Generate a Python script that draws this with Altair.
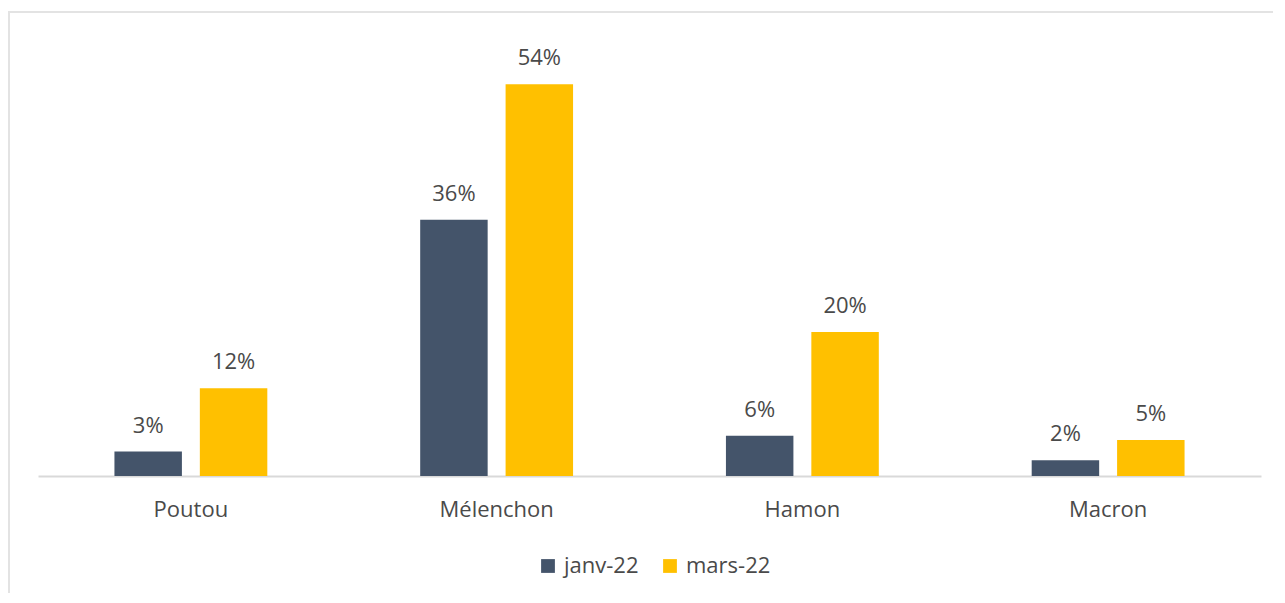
import altair as alt
import pandas as pd

candidates = ["Poutou", "Mélenchon", "Hamon", "Macron"]
series = ["janv-22", "mars-22"]
janv_values = [3.4, 35.6, 5.6, 2.2]
mars_values = [12.2, 54.4, 20.0, 5.0]
colors = ["#44546A", "#FFC000"]

rows = []
for i, c in enumerate(candidates):
    rows.append({"candidat": c, "periode": series[0], "valeur": janv_values[i]})
    rows.append({"candidat": c, "periode": series[1], "valeur": mars_values[i]})
df = pd.DataFrame(rows)

FONT = "Open Sans"
TXT = "#4A4A4A"
FS = 22

x_enc = alt.X("candidat:N", sort=candidates, title=None,
              scale=alt.Scale(paddingInner=0.5, paddingOuter=0.25),
              axis=alt.Axis(labelAngle=0, ticks=False, domainColor="#D9D9D9",
                            domainWidth=2, labelFont=FONT, labelFontSize=FS,
                            labelColor=TXT, labelPadding=23, grid=False))
y_enc = alt.Y("valeur:Q", title=None, scale=alt.Scale(domain=[0, 60], nice=False),
              axis=None)
off = alt.XOffset("periode:N", sort=series, scale=alt.Scale(paddingInner=0.21))

bars = alt.Chart(df).mark_bar().encode(
    x=x_enc, y=y_enc, xOffset=off,
    color=alt.Color("periode:N", sort=series,
                    scale=alt.Scale(domain=series, range=colors),
                    legend=alt.Legend(title=None, orient="none", direction="horizontal",
                                      legendX=499, legendY=511,
                                      symbolType="square", symbolSize=190,
                                      symbolStrokeWidth=0,
                                      labelFont=FONT, labelFontSize=FS,
                                      labelColor=TXT, labelOffset=5,
                                      columnPadding=20))
)

labels = alt.Chart(df).transform_calculate(
    label="format(datum.valeur, '.0f') + '%'"
).mark_text(font=FONT, fontSize=FS, color=TXT,
            baseline="alphabetic", dy=-19).encode(
    x=x_enc, y=y_enc, xOffset=off, text="label:N"
)

frame = alt.Chart(df).mark_rect(fill=None, stroke="#E3E3E3", strokeWidth=2).encode(
    x=alt.value(-29), x2=alt.value(1400), y=alt.value(-32), y2=alt.value(800)
)

chart = alt.layer(frame, bars, labels).properties(
    width=1223, height=432,
    autosize=alt.AutoSizeParams(type="none"),
    padding={"left": 30, "top": 36, "right": 12, "bottom": 117},
).configure(background="white").configure_view(stroke=None)

chart.save("out.html", embed_options={"renderer": "svg", "actions": False})
